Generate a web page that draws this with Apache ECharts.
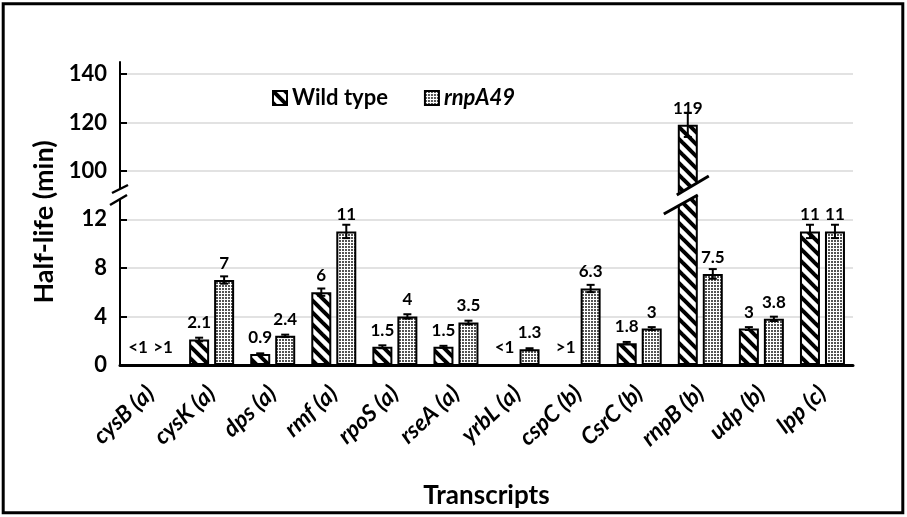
<!DOCTYPE html>
<html><head><meta charset="utf-8">
<script src="https://cdn.jsdelivr.net/npm/echarts@6/dist/echarts.min.js"></script>
<style>html,body{margin:0;padding:0;background:#fff}#c{width:907px;height:517px}</style>
</head><body><div id="c"></div>
<script>
const categories = ['cysB (a)','cysK (a)','dps (a)','rmf (a)','rpoS (a)','rseA (a)','yrbL (a)','cspC (b)','CsrC (b)','rnpB (b)','udp (b)','lpp (c)'];
const wildType = [0, 2.1, 0.9, 6, 1.5, 1.5, 0, 0, 1.8, 119, 3, 11];
const wildTypeErr = [0, 0.15, 0.06, 0.3, 0.12, 0.08, 0, 0, 0.1, 5, 0.12, 0.55];
const wildTypeLabels = ['<1','2.1','0.9','6','1.5','1.5','<1','>1','1.8','119','3','11'];
const mutant = [0, 7, 2.4, 11, 4, 3.5, 1.3, 6.3, 3, 7.5, 3.8, 11];
const mutantErr = [0, 0.3, 0.1, 0.55, 0.18, 0.15, 0.08, 0.3, 0.12, 0.4, 0.18, 0.55];
const mutantLabels = ['>1','7','2.4','11','4','3.5','1.3','6.3','3','7.5','3.8','11'];
const lowerTicks = [0, 4, 8, 12];
const upperTicks = [100, 120, 140];
const lowerMax = 14, upperMin = 90, upperMax = 145;

const FONT = 'Lato';
function makeHatch() {
  const c = document.createElement('canvas'); c.width = 12; c.height = 12;
  const g = c.getContext('2d');
  g.fillStyle = '#fff'; g.fillRect(0, 0, 12, 12);
  g.strokeStyle = '#000'; g.lineWidth = 4;
  for (let k = -1; k <= 1; k++) { g.beginPath(); g.moveTo(k * 12 - 3, -3); g.lineTo(k * 12 + 15, 15); g.stroke(); }
  return c;
}
function makeDots() {
  const c = document.createElement('canvas'); c.width = 3; c.height = 3;
  const g = c.getContext('2d');
  g.fillStyle = '#fff'; g.fillRect(0, 0, 3, 3);
  g.fillStyle = '#555'; g.fillRect(0, 0, 2, 2);
  return c;
}
const hatch = { image: makeHatch(), repeat: 'repeat' };
const dots = { image: makeDots(), repeat: 'repeat' };

const BW = 20, GAP = 5, OFF = (BW + GAP) / 2;
const labelStyle = { show: true, position: 'top', distance: 8, color: '#000', fontFamily: FONT, fontWeight: 'bold', fontSize: 17 };

function lowerData(vals, labels) {
  return vals.map((v, i) => ({ value: v, label: { show: v <= lowerMax, formatter: labels[i] } }));
}
function upperData(vals, labels) {
  return vals.map((v, i) => v > upperMin ? { value: v, label: { show: true, formatter: labels[i] } } : '-');
}
function errSeries(vals, errs, offset, idx, lo, hi) {
  const d = [];
  vals.forEach((v, i) => { if (errs[i] > 0 && v > lo && v <= hi) d.push([i, v, errs[i]]); });
  return {
    type: 'custom', xAxisIndex: idx, yAxisIndex: idx, silent: true, z: 5, data: d,
    encode: { x: 0, y: 1 },
    renderItem: (p, api) => {
      const i = api.value(0), v = api.value(1), e = api.value(2);
      const t = api.coord([i, v + e]), b = api.coord([i, v - e]);
      const x = t[0] + offset, cap = 4;
      const st = { stroke: '#000', lineWidth: 2 };
      return { type: 'group', children: [
        { type: 'line', shape: { x1: x, y1: t[1], x2: x, y2: b[1] }, style: st },
        { type: 'line', shape: { x1: x - cap, y1: t[1], x2: x + cap, y2: t[1] }, style: st },
        { type: 'line', shape: { x1: x - cap, y1: b[1], x2: x + cap, y2: b[1] }, style: st }
      ] };
    }
  };
}
const barBase = { type: 'bar', barWidth: BW, barGap: (GAP / BW * 100) + '%', itemStyle: { borderColor: '#000', borderWidth: 2 } };
const yBase = {
  type: 'value',
  axisLine: { show: true, lineStyle: { color: '#000', width: 2 } },
  axisLabel: { color: '#000', fontFamily: FONT, fontWeight: 'bold', fontSize: 22, margin: 13 },
  splitLine: { show: true, lineStyle: { color: '#d9d9d9', width: 1.5 } }
};

const chart = echarts.init(document.getElementById('c'), null, { renderer: 'canvas' });
const option = {
  animation: false,
  backgroundColor: '#fff',
  legend: {
    data: ['Wild type', 'rnpA49'], left: 267, top: 82, itemWidth: 14, itemHeight: 14, itemGap: 36, icon: 'rect',
    textStyle: { color: '#000', fontFamily: FONT, fontWeight: 'bold', fontSize: 22,
      rich: { i: { color: '#000', fontFamily: FONT, fontWeight: 'bold', fontStyle: 'italic', fontSize: 22 } } },
    formatter: n => n === 'rnpA49' ? '{i|rnpA49}' : n
  },
  grid: [
    { left: 120, right: 54, top: 195, bottom: 152 },
    { left: 120, right: 54, top: 62, bottom: 322 }
  ],
  xAxis: [
    { gridIndex: 0, type: 'category', data: categories,
      axisLine: { lineStyle: { color: '#000', width: 3 } }, axisTick: { show: false },
      axisLabel: { interval: 0, rotate: 43, margin: 25, color: '#000', fontFamily: FONT, fontWeight: 'bold', fontStyle: 'italic', fontSize: 23 },
      name: 'Transcripts', nameLocation: 'middle', nameGap: 118,
      nameTextStyle: { color: '#000', fontFamily: FONT, fontWeight: 'bold', fontSize: 26 } },
    { gridIndex: 1, type: 'category', data: categories, show: false }
  ],
  yAxis: [
    Object.assign({}, yBase, { gridIndex: 0, min: 0, max: lowerMax,
      axisTick: { show: true, inside: true, length: 7, lineStyle: { color: '#000', width: 2 }, customValues: lowerTicks },
      axisLabel: Object.assign({}, yBase.axisLabel, { customValues: lowerTicks }) }),
    Object.assign({}, yBase, { gridIndex: 1, min: upperMin, max: upperMax,
      axisTick: { show: true, inside: true, length: 7, lineStyle: { color: '#000', width: 2 }, customValues: upperTicks },
      axisLabel: Object.assign({}, yBase.axisLabel, { customValues: upperTicks }) })
  ],
  series: [
    Object.assign({}, barBase, { name: 'Wild type', xAxisIndex: 0, yAxisIndex: 0, data: lowerData(wildType, wildTypeLabels), itemStyle: Object.assign({ color: hatch }, barBase.itemStyle), label: labelStyle }),
    Object.assign({}, barBase, { name: 'rnpA49', xAxisIndex: 0, yAxisIndex: 0, data: lowerData(mutant, mutantLabels), itemStyle: Object.assign({ color: dots }, barBase.itemStyle), label: labelStyle }),
    Object.assign({}, barBase, { name: 'Wild type', xAxisIndex: 1, yAxisIndex: 1, data: upperData(wildType, wildTypeLabels), itemStyle: Object.assign({ color: hatch }, barBase.itemStyle), label: labelStyle }),
    Object.assign({}, barBase, { name: 'rnpA49', xAxisIndex: 1, yAxisIndex: 1, data: upperData(mutant, mutantLabels), itemStyle: Object.assign({ color: dots }, barBase.itemStyle), label: labelStyle }),
    errSeries(wildType, wildTypeErr, -OFF, 0, -1, lowerMax),
    errSeries(mutant, mutantErr, OFF, 0, -1, lowerMax),
    errSeries(wildType, wildTypeErr, -OFF, 1, upperMin, upperMax),
    errSeries(mutant, mutantErr, OFF, 1, upperMin, upperMax)
  ]
};
chart.setOption(option);

// axis-break decorations, positioned from the library's own scales
const bi = wildType.findIndex(v => v > lowerMax);
const p = chart.convertToPixel({ gridIndex: 0 }, [bi, lowerMax]);
const cx = p[0] - OFF, by = p[1];
const ax = chart.convertToPixel({ gridIndex: 0 }, [0, 0])[0] - chart.getModel().getComponent('xAxis', 0).axis.getBandWidth() / 2;
const slash = { stroke: '#000', lineWidth: 3 };
chart.setOption({
  graphic: [
    { type: 'rect', z: 100, shape: { x: 3.2, y: 3.7, width: 899.6, height: 509 }, style: { fill: null, stroke: '#000', lineWidth: 3 } },
    { type: 'text', z: 100, x: 44, y: 222, rotation: Math.PI / 2,
      style: { text: 'Half-life (min)', font: 'bold 27px Lato', fill: '#000', align: 'center', verticalAlign: 'middle' } },
    { type: 'polygon', z: 100, shape: { points: [[cx - 11, by], [cx + 21, by - 19], [cx + 10, by], [cx - 24, by + 19]] }, style: { fill: '#fff' } },
    { type: 'line', z: 101, shape: { x1: cx - 11, y1: by, x2: cx + 21, y2: by - 19 }, style: slash },
    { type: 'line', z: 101, shape: { x1: cx - 24, y1: by + 19, x2: cx + 10, y2: by }, style: slash },
    { type: 'polygon', z: 100, shape: { points: [[ax - 8, by - 2], [ax + 8, by - 10], [ax + 7, by], [ax - 10, by + 10]] }, style: { fill: '#fff' } },
    { type: 'line', z: 101, shape: { x1: ax - 8, y1: by - 2, x2: ax + 8, y2: by - 10 }, style: { stroke: '#000', lineWidth: 2.5 } },
    { type: 'line', z: 101, shape: { x1: ax - 10, y1: by + 10, x2: ax + 7, y2: by }, style: { stroke: '#000', lineWidth: 2.5 } }
  ]
});
</script></body></html>
